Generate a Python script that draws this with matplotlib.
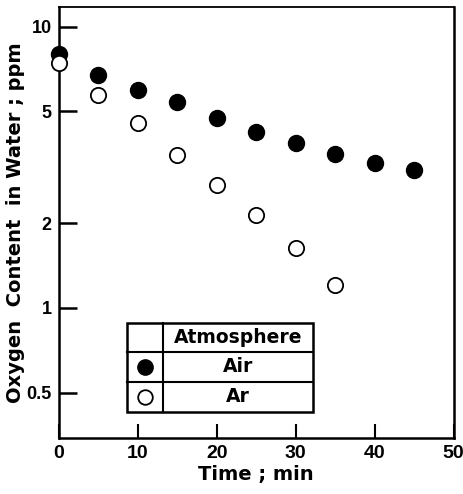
import matplotlib
matplotlib.use("Agg")
import matplotlib.pyplot as plt
from matplotlib.ticker import FixedLocator, FixedFormatter, NullLocator

plt.rcParams['font.family'] = ['Liberation Sans', 'DejaVu Sans']
plt.rcParams['font.weight'] = 'bold'
LABEL_FONT = 'DejaVu Sans'

# oxygen content (ppm) vs time (min)
time_air = [0, 5, 10, 15, 20, 25, 30, 35, 40, 45]
o2_air = [8.0, 6.74, 5.95, 5.42, 4.72, 4.24, 3.87, 3.54, 3.29, 3.10]
time_ar = [0, 5, 10, 15, 20, 25, 30, 35]
o2_ar = [7.45, 5.71, 4.55, 3.50, 2.73, 2.14, 1.63, 1.21]

yticks = [0.5, 1, 2, 5, 10]
ytick_labels = ['0.5', '1', '2', '5', '10']
xticks = [0, 10, 20, 30, 40, 50]

fig = plt.figure(figsize=(4.63, 4.94), dpi=100)
ax = fig.add_axes([0.1268, 0.1134, 0.8527, 0.8734])

ax.plot(time_air, o2_air, 'o', ms=11.5, mfc='black', mec='black', clip_on=False, zorder=5)
ax.plot(time_ar, o2_ar, 'o', ms=11, mfc='white', mec='black', mew=1.3, clip_on=False, zorder=6)

ax.set_yscale('log')
ax.set_ylim(0.345, 11.8)
ax.set_xlim(0, 50)
ax.yaxis.set_major_locator(FixedLocator(yticks))
ax.yaxis.set_major_formatter(FixedFormatter(ytick_labels))
ax.yaxis.set_minor_locator(NullLocator())
ax.set_xticks(xticks)

for s in ax.spines.values():
    s.set_linewidth(1.8)
ax.spines['top'].set_linewidth(1.3)

ax.tick_params(axis='y', direction='in', length=13, width=1.8, labelsize=13, pad=5)
ax.tick_params(axis='x', direction='in', length=10, width=1.5, labelsize=14, pad=5)

ax.set_xlabel('Time ; min', fontsize=14, fontweight='bold', family=LABEL_FONT)
ax.set_ylabel('Oxygen  Content  in Water ; ppm', fontsize=14, fontweight='bold', family=LABEL_FONT)
ax.xaxis.set_label_coords(0.5, -0.062)
ax.yaxis.set_label_coords(-0.086, 0.5)

# legend table
tr = ax.transAxes
x0, xm, x1 = 0.174, 0.265, 0.643
rows = [0.0596, 0.1305, 0.20, 0.2658]
ax.add_patch(plt.Rectangle((x0, rows[0]), x1 - x0, rows[3] - rows[0], transform=tr,
                           fill=True, fc='white', ec='black', lw=1.8, zorder=8))
for yy in rows[1:3]:
    ax.plot([x0, x1], [yy, yy], color='black', lw=1.5, transform=tr, zorder=9)
ax.plot([xm, xm], [rows[0], rows[3]], color='black', lw=1.5, transform=tr, zorder=9)

xc = (xm + x1) / 2
for label, lo, hi in [('Atmosphere', rows[2], rows[3]), ('Air', rows[1], rows[2]),
                      ('Ar', rows[0], rows[1])]:
    ax.text(xc, (lo + hi) / 2, label, transform=tr, ha='center', va='center',
            fontsize=13.5, fontweight='bold', family=LABEL_FONT, zorder=10)
mx = (x0 + xm) / 2
ax.plot([mx], [(rows[1] + rows[2]) / 2], 'o', ms=11, mfc='black', mec='black', transform=tr, zorder=10)
ax.plot([mx], [(rows[0] + rows[1]) / 2], 'o', ms=10.5, mfc='white', mec='black', mew=1.3,
        transform=tr, zorder=10)

fig.savefig('out.png', dpi=100)
